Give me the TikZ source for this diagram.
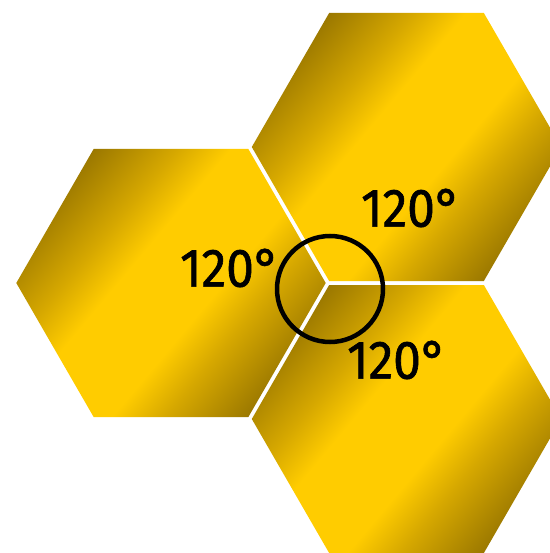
\documentclass[tikz,border=0pt]{standalone}
\usepackage{fontspec}
\setmainfont{Fira Sans}
\newfontfamily\labelfont{Fira Sans}[FakeBold=1.2]
\definecolor{hexdark}{RGB}{150,116,0}
\definecolor{hexmid}{RGB}{214,168,0}
\definecolor{hexgold}{RGB}{255,204,0}
\pgfdeclareverticalshading{hexshade}{100bp}{color(0bp)=(hexdark); color(24bp)=(hexdark); color(36bp)=(hexmid); color(43bp)=(hexgold); color(57bp)=(hexgold); color(64bp)=(hexmid); color(76bp)=(hexdark); color(100bp)=(hexdark)}
\tikzset{
  hexcell/.style={shading=hexshade, shading angle=50, draw=none},
  anglelabel/.style={font=\labelfont\fontsize{54}{54}\selectfont, text=black, inner sep=0pt, xscale=0.92},
  ringstyle/.style={circle, draw=black, line width=4.5pt, minimum size=106pt, inner sep=0pt}
}
\begin{document}
\begin{tikzpicture}[x=1pt,y=-1pt]
\useasboundingbox[fill=white] (0,0) rectangle (549,553);
\foreach \cx/\cy in {171/283, 406.5/147, 406.5/419}{
  \shade[hexcell] ({\cx-154.7},\cy) -- ({\cx-77.35},{\cy-134}) -- ({\cx+77.35},{\cy-134})
    -- ({\cx+154.7},\cy) -- ({\cx+77.35},{\cy+134}) -- ({\cx-77.35},{\cy+134}) -- cycle;
}
\node[ringstyle] (ring) at (330,289) {};
\node[anglelabel] (aL) at (230,268) {120°};
\node[anglelabel] (aT) at (411,208) {120°};
\node[anglelabel] (aB) at (397,360) {120°};
\end{tikzpicture}
\end{document}
